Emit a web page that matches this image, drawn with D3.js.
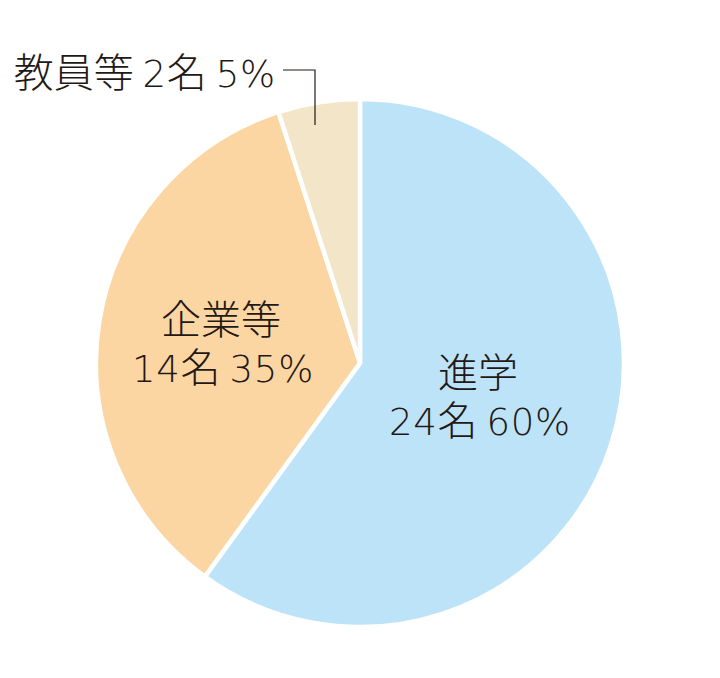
<!DOCTYPE html>
<html>
<head>
<meta charset="utf-8">
<script src="https://cdn.jsdelivr.net/npm/d3@7"></script>
<style>
  body { margin: 0; background: #fff; }
  text { font-family: "Noto Sans CJK JP", sans-serif; font-weight: 300; fill: #231815; }
  .latin { font-family: "DejaVu Sans ExtraLight", "DejaVu Sans", sans-serif; font-weight: 200; }
</style>
</head>
<body>
<div id="chart"></div>
<script>
var svgWidth = 720;
var svgHeight = 678;

// data
var categories = ["進学", "企業等", "教員等"];
var counts = [24, 14, 2];
var percents = [60, 35, 5];
var colors = ["#bde3f8", "#fbd6a3", "#f3e6c8"];

var cx = 360, cy = 363, radius = 264;
var cjkSize = 40, latinSize = 37;

var svg = d3.select("#chart")
  .append("svg")
  .attr("width", svgWidth)
  .attr("height", svgHeight);

var chartGroup = svg.append("g")
  .attr("transform", `translate(${cx}, ${cy})`);

var pie = d3.pie().sort(null).value(d => d);
var arc = d3.arc().innerRadius(0).outerRadius(radius);

var arcs = pie(counts);

chartGroup.selectAll("path.slice")
  .data(arcs)
  .enter()
  .append("path")
  .attr("class", "slice")
  .attr("d", arc)
  .attr("fill", (d, i) => colors[i])
  .attr("stroke", "#fff")
  .attr("stroke-width", 4.5)
  .attr("stroke-linejoin", "miter");

// write a run of text, digits/% in a wide latin font, kanji in the CJK font
function writeLine(sel, str) {
  var runs = str.match(/[0-9%]+|[^0-9%]+/g);
  runs.forEach(function(run) {
    var ts = sel.append("tspan");
    if (/^[0-9%]+$/.test(run)) {
      ts.attr("class", "latin")
        .attr("font-size", latinSize)
        .attr("letter-spacing", 0.8)
        .text(run);
    } else {
      ts.attr("font-size", cjkSize)
        .attr("dx", run.startsWith(" ") ? 11 : null)
        .text(run);
    }
  });
  return sel;
}

// inside labels for the two big slices (two lines in one text)
var labelPos = [[118, 24], [-139, -29]];
[0, 1].forEach(function(i) {
  var x = labelPos[i][0];
  var t = chartGroup.append("text")
    .attr("text-anchor", "middle")
    .attr("x", x)
    .attr("y", labelPos[i][1]);
  t.append("tspan")
    .attr("font-size", cjkSize)
    .text(categories[i]);
  var line2 = t.append("tspan")
    .attr("x", x + 2)
    .attr("dy", 48);
  writeLine(line2, `${counts[i]}名 ${percents[i]}%`);
});

// outside label for the small slice, with leader line
var leadX = -45, leadBottom = -238, leadTop = -293, leadLeft = -77;

chartGroup.append("path")
  .attr("d", `M${leadX},${leadBottom} V${leadTop} H${leadLeft}`)
  .attr("fill", "none")
  .attr("stroke", "#231815")
  .attr("stroke-width", 1.2);

var outer = chartGroup.append("text")
  .attr("x", -84)
  .attr("y", -276)
  .attr("text-anchor", "end");
writeLine(outer, `${categories[2]} ${counts[2]}名 ${percents[2]}%`);
</script>
</body>
</html>
